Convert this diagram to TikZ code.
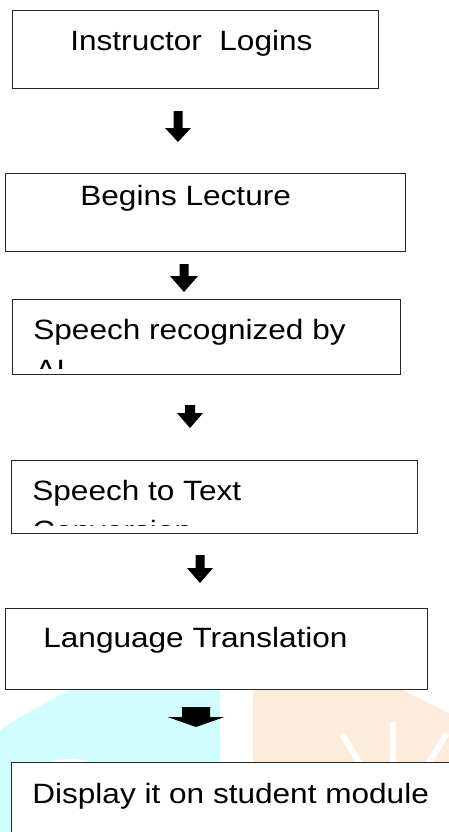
\documentclass[tikz,border=0pt]{standalone}
\usepackage{fontspec}
\setmainfont[FakeStretch=1.13]{Liberation Sans}
\usepackage{tikz}
\usetikzlibrary{calc}

\definecolor{wmcyan}{RGB}{208,254,255}
\definecolor{wmpeach}{RGB}{253,235,219}

\begin{document}
\begin{tikzpicture}[
        x=0.02cm, y=-0.02cm,
        box/.style={draw=black!85, line width=0.75pt, fill=white,
            anchor=north west, inner sep=0pt},
        txt/.style={anchor=base west, inner sep=0pt,
            font=\fontsize{15.9pt}{22.8pt}\selectfont},
        blockarrow/.style={fill=black},
        wmline/.style={white, line width=3.4pt},
    ]
    \useasboundingbox (0,0) rectangle (449,832);
    \clip (0,0) rectangle (449,832);

    % watermark
    \fill[wmcyan] (0,832) -- (0,730) -- (20,717) -- (40,706) -- (62,694)
        -- (70,690) -- (220,690) -- (220,832) -- cycle;
    \fill[white] (70,764) ellipse (20 and 5);
    \fill[wmpeach] (253,690) -- (403,690) -- (449,713) -- (449,832)
        -- (253,832) -- cycle;
    \draw[wmline] (393,722) -- (393,770);
    \draw[wmline] (342,734) -- (360,764);
    \draw[wmline] (447,733) -- (428,764);

    % boxes
    \node[box, minimum width=7.32cm, minimum height=1.56cm] (login) at (12,10) {};
    \node[box, minimum width=8.00cm, minimum height=1.56cm] (lecture) at (5,173) {};
    \node[box, minimum width=7.76cm, minimum height=1.50cm] (recog) at (12,299) {};
    \node[box, minimum width=8.12cm, minimum height=1.46cm] (convert) at (11,460) {};
    \node[box, minimum width=8.44cm, minimum height=1.62cm] (translate) at (5,608) {};
    \node[box, minimum width=9.20cm, minimum height=2.00cm] (display) at (11,762) {};

    % texts
    \node[txt] (logintxt) at (70,50) {Instructor\ \ Logins};
    \node[txt] (lecturetxt) at (80,205) {Begins Lecture};
    \begin{scope}
        \clip (recog.north west) rectangle ($(recog.south east)+(0,-7)$);
        \node[txt] (recogtxt) at (33,339) {Speech recognized by};
        \node[txt] (recogtxtb) at (35,379) {AI};
    \end{scope}
    \begin{scope}
        \clip (convert.north west) rectangle ($(convert.south east)+(0,-9)$);
        \node[txt] (converttxt) at (32,500) {Speech to Text};
        \node[txt] (converttxtb) at (32,540) {Conversion};
    \end{scope}
    \node[txt] (translatetxt) at (43,647) {Language Translation};
    \node[txt] (displaytxt) at (32,803) {Display it on student module};

    % arrows
    \foreach \cx/\yt/\yh/\yb/\sw/\hw in {178/111/128/142/9/26,
            184/264/276/292/9/28, 190/405/413/428/10/26,
            200/555/568/583/9/26, 196/707/717/727/28/57}
        \fill[blockarrow] ({\cx-\sw/2},\yt) -- ({\cx+\sw/2},\yt)
            -- ({\cx+\sw/2},\yh) -- ({\cx+\hw/2},\yh) -- (\cx,\yb)
            -- ({\cx-\hw/2},\yh) -- ({\cx-\sw/2},\yh) -- cycle;
\end{tikzpicture}
\end{document}
